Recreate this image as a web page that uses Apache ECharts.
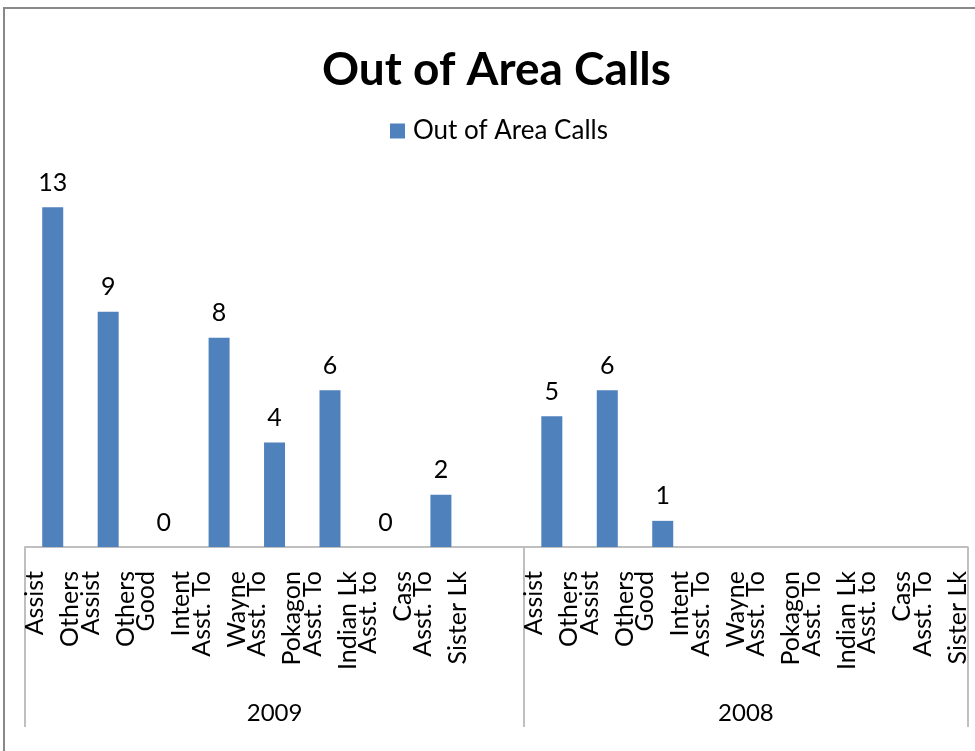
<!DOCTYPE html>
<html>
<head>
<meta charset="utf-8">
<script src="https://cdn.jsdelivr.net/npm/echarts@6/dist/echarts.min.js"></script>
<style>
  html, body { margin: 0; padding: 0; background: #fff; }
  #chart { width: 975px; height: 751px; }
</style>
</head>
<body>
<div id="chart"></div>
<script>
// category labels per year group (the 2009 group ends with an empty slot)
const cats2009 = ['Assist\nOthers', 'Assist\nOthers', 'Good\nIntent', 'Asst. To\nWayne', 'Asst. To\nPokagon', 'Asst. To\nIndian Lk', 'Asst. to\nCass', 'Asst. To\nSister Lk', '']
const cats2008 = ['Assist\nOthers', 'Assist\nOthers', 'Good\nIntent', 'Asst. To\nWayne', 'Asst. To\nPokagon', 'Asst. To\nIndian Lk', 'Asst. to\nCass', 'Asst. To\nSister Lk']
const vals2009 = [13, 9, 0, 8, 4, 6, 0, 2, null]
const vals2008 = [5, 6, 1, null, null, null, null, null]
const groups = ['2009', '2008']
const seriesName = 'Out of Area Calls'

const categories = cats2009.concat(cats2008)
const values = vals2009.concat(vals2008)
const groupSizes = [cats2009.length, cats2008.length]

// group boundaries and centers on a 0..N scale
const bounds = [0]
groupSizes.forEach(n => bounds.push(bounds[bounds.length - 1] + n))
const centers = groupSizes.map((n, i) => bounds[i] + n / 2)

const FONT = 'Lato, Carlito, "Open Sans", sans-serif'
const GRAY = '#bfbfbf'

const chart = echarts.init(document.getElementById('chart'))

const options = {
    backgroundColor: '#fff',
    animation: false,
    textStyle: { fontFamily: FONT },
    title: {
        text: 'Out of Area Calls',
        left: 317,
        top: 42,
        textStyle: { fontFamily: FONT, fontSize: 46, fontWeight: 'bold', color: '#000' }
    },
    legend: {
        top: 113,
        left: 385,
        itemWidth: 15,
        itemHeight: 15,
        icon: 'rect',
        textStyle: { fontFamily: FONT, fontSize: 26, color: '#000', padding: [0, 0, 0, 3] },
        data: [seriesName]
    },
    graphic: [{
        type: 'rect',
        shape: { x: 4, y: 8, width: 1000, height: 1000 },
        style: { fill: 'none', stroke: '#888', lineWidth: 2 },
        silent: true
    }],
    grid: { left: 25, right: 7, top: 181, bottom: 204 },
    xAxis: [{
        type: 'category',
        data: categories,
        axisLine: { lineStyle: { color: GRAY, width: 2 } },
        axisTick: { show: false },
        axisLabel: {
            interval: 0,
            rotate: 90,
            margin: 24,
            fontSize: 25,
            lineHeight: 35,
            color: '#000',
            fontFamily: FONT
        }
    }, {
        type: 'value',
        position: 'bottom',
        min: 0,
        max: bounds[bounds.length - 1],
        axisLine: { show: false },
        splitLine: { show: false },
        axisTick: {
            show: true,
            customValues: bounds,
            length: 180,
            lineStyle: { color: GRAY, width: 2 }
        },
        axisLabel: {
            customValues: centers,
            margin: 154,
            fontSize: 24,
            color: '#000',
            fontFamily: FONT,
            formatter: function (v) {
                const i = centers.indexOf(v)
                return i >= 0 ? groups[i] : ''
            }
        }
    }],
    yAxis: {
        type: 'value',
        min: 0,
        max: 14,
        show: false,
        splitLine: { show: false }
    },
    series: [{
        name: seriesName,
        type: 'bar',
        xAxisIndex: 0,
        barWidth: 21,
        data: values,
        itemStyle: { color: '#4f81bd' },
        label: {
            show: true,
            position: 'top',
            distance: 12,
            fontSize: 25,
            color: '#000',
            fontFamily: FONT
        }
    }]
}

chart.setOption(options)
</script>
</body>
</html>
